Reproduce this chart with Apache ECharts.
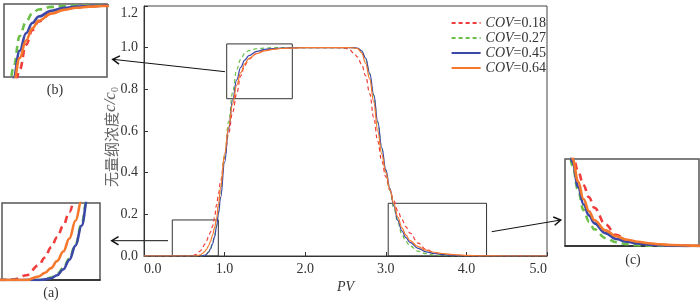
<!DOCTYPE html>
<html><head><meta charset="utf-8">
<script src="https://cdn.jsdelivr.net/npm/echarts@6/dist/echarts.min.js"></script>
<style>html,body{margin:0;padding:0;background:#fff}#c{width:700px;height:301px}</style>
</head><body><div id="c"></div>
<script>
// ---- data ----
const pv = [0,0.5,0.55,0.6,0.65,0.7,0.725,0.75,0.775,0.8,0.825,0.85,0.875,0.9,0.925,0.95,1.0,1.05,1.1,1.15,1.2,1.25,1.3,1.4,1.5,1.6,1.7,1.8,2.0,2.2,2.4,2.5,2.55,2.6,2.65,2.7,2.75,2.8,2.85,2.9,2.95,3.0,3.05,3.1,3.15,3.2,3.25,3.3,3.4,3.5,3.6,3.7,3.8,3.9,4.0,4.2,4.5,5.0];
const cov018 = [0,0,0,0.001,0.008,0.025,0.038,0.055,0.072,0.092,0.115,0.142,0.185,0.245,0.3,0.36,0.47,0.59,0.69,0.78,0.865,0.915,0.945,0.973,0.987,0.994,0.997,0.999,1,1,1,0.997,0.99,0.975,0.955,0.92,0.865,0.78,0.665,0.55,0.455,0.38,0.315,0.265,0.215,0.175,0.14,0.11,0.062,0.032,0.016,0.008,0.004,0.002,0.001,0,0,0];
const cov027 = [0,0,0,0,0,0,0.001,0.004,0.01,0.02,0.036,0.06,0.095,0.145,0.215,0.3,0.48,0.645,0.785,0.895,0.945,0.973,0.986,0.995,0.998,1,1,1,1,1,1,1,1,1,0.997,0.982,0.945,0.872,0.77,0.64,0.515,0.405,0.315,0.23,0.16,0.103,0.07,0.048,0.023,0.011,0.005,0.002,0.001,0,0,0,0,0];
const cov045 = [0,0,0,0,0,0,0.001,0.003,0.008,0.018,0.034,0.058,0.092,0.14,0.205,0.28,0.45,0.61,0.75,0.845,0.905,0.94,0.962,0.982,0.992,0.996,0.998,0.999,1,1,1,1,1,1,0.998,0.985,0.95,0.878,0.775,0.645,0.52,0.415,0.325,0.24,0.17,0.12,0.088,0.065,0.037,0.02,0.012,0.007,0.004,0.002,0.001,0,0,0];
const cov064 = [0,0,0,0,0,0.006,0.012,0.02,0.032,0.048,0.07,0.1,0.135,0.18,0.25,0.33,0.49,0.62,0.73,0.82,0.88,0.922,0.948,0.972,0.985,0.992,0.996,0.998,1,1,1,1,1,0.999,0.995,0.975,0.925,0.85,0.74,0.6,0.49,0.4,0.32,0.25,0.185,0.135,0.1,0.074,0.045,0.028,0.018,0.012,0.008,0.005,0.003,0.001,0,0];
const seriesNames = ['COV=0.18','COV=0.27','COV=0.45','COV=0.64'];
const seriesValues = [cov018, cov027, cov045, cov064];
const xTickLabels = ['0.0','1.0','2.0','3.0','4.0','5.0'];
const yTickLabels = ['0.0','0.2','0.4','0.6','0.8','1.0','1.2'];
// zoom boxes drawn on the main plot, [[x0,y0],[x1,y1]]
const boxA = [[0.351,0],[0.922,0.173]];
const boxB = [[1.026,0.755],[1.84,1.018]];
const boxC = [[3.03,0],[4.25,0.253]];
// inset axis ranges
const insetBX = [1.026,1.84], insetBY = [0.755,1.005];
const insetAX = [0.55,0.95],  insetAY = [0,0.13];
const insetCX = [3.03,4.26], insetCY = [0,0.25];

// ---- styles ----
const colors = ['#f03c3c','#6cc04a','#3c48a8','#f5782d'];
const dashed = [true,true,false,false];
const serif = 'Liberation Serif';

const chart = echarts.init(document.getElementById('c'), null, {renderer:'canvas'});

function mkSeries(i, gi, w, dash){
  return {
    name: seriesNames[i], type:'line', xAxisIndex: gi, yAxisIndex: gi,
    data: pv.map((x,k)=>[x, seriesValues[i][k]]),
    showSymbol:false, symbol:'none', smooth:0.4, smoothMonotone:'x',
    lineStyle:{color:colors[i], width:w, type: dashed[i] ? dash : 'solid'},
    itemStyle:{color:colors[i]}, silent:true, animation:false, z: 2+i
  };
}
const series = [];
for (let i=0;i<4;i++) series.push(mkSeries(i,0,1.2,[4,3]));
series[0].markArea = {
  silent:true,
  itemStyle:{color:'rgba(0,0,0,0)', borderColor:'#333', borderWidth:1},
  data:[boxA,boxB,boxC].map(b=>[{coord:b[0]},{coord:b[1]}])
};
for (let g=1; g<=3; g++) for (let i=0;i<4;i++) series.push(mkSeries(i,g,2.6,[7,5]));

const insetAxisX = (gi, r, line) => ({gridIndex:gi, type:'value', min:r[0], max:r[1],
  axisLine:{show:line, onZero:false, lineStyle:{color:'#222', width:1.5}}, axisTick:{show:false}, axisLabel:{show:false}, splitLine:{show:false}});
const insetAxisY = (gi, r) => ({gridIndex:gi, type:'value', min:r[0], max:r[1], show:false, splitLine:{show:false}});

function arrow(x1,y1,x2,y2){
  const dx=x1-x2, dy=y1-y2, L=Math.hypot(dx,dy), ux=dx/L, uy=dy/L, a=0.55, h=8;
  const r=(c,s)=>[x2+h*(ux*c-uy*s), y2+h*(uy*c+ux*s)];
  const p1=r(Math.cos(a),Math.sin(a)), p2=r(Math.cos(a),-Math.sin(a));
  return [
    {type:'line', shape:{x1,y1,x2,y2}, style:{stroke:'#111', lineWidth:1}, silent:true},
    {type:'polyline', shape:{points:[p1,[x2,y2],p2]}, style:{stroke:'#111', lineWidth:1.5, fill:null}, silent:true}
  ];
}
const txt = (x,y,t)=>({type:'text', x, y, style:{text:t, font:'14px "Liberation Serif"', fill:'#333', align:'center', verticalAlign:'middle'}, silent:true});

chart.setOption({
  animation:false,
  grid:[
    {left:144, top:6, right:153, bottom:45, show:true, borderColor:'#444', borderWidth:1},
    {left:4, top:4, width:103, height:73, show:true, borderColor:'#555', borderWidth:1.5},
    {left:2, top:203, width:98, height:77, show:true, borderColor:'#555', borderWidth:1.5},
    {left:565, top:159, width:134, height:87, show:true, borderColor:'#555', borderWidth:1.5}
  ],
  legend:{
    data: seriesNames, orient:'vertical', right:149, top:11, itemWidth:29, itemHeight:10, itemGap:1,
    itemStyle:{opacity:0},
    formatter: n => '{i|COV}' + n.slice(3),
    textStyle:{fontFamily:serif, fontSize:14, color:'#333', lineHeight:14,
      rich:{i:{fontFamily:serif, fontStyle:'italic', fontSize:14, color:'#333', lineHeight:14}}},
    selectedMode:false
  },
  xAxis:[
    {gridIndex:0, type:'value', min:0, max:5, interval:1,
     name:'PV', nameLocation:'middle', nameGap:24, nameMoveOverlap:false,
     nameTextStyle:{fontFamily:serif, fontStyle:'italic', fontSize:14, color:'#333'},
     axisLine:{lineStyle:{color:'#333', width:1}},
     axisTick:{inside:true, length:4, lineStyle:{color:'#333'}},
     axisLabel:{fontFamily:serif, fontSize:14, color:'#333', margin:6,
       formatter:(v)=>xTickLabels[Math.round(v)], alignMinLabel:'left', alignMaxLabel:'right'},
     splitLine:{show:false}},
    insetAxisX(1, insetBX, false), insetAxisX(2, insetAX, true), insetAxisX(3, insetCX, true)
  ],
  yAxis:[
    {gridIndex:0, type:'value', min:0, max:1.2, interval:0.2,
     name:'{cn|无量纲浓度}{it|c/c}{sub|0}', nameLocation:'middle', nameGap:24, nameRotate:90, nameMoveOverlap:false,
     nameTextStyle:{color:'#666', padding:[0,12,0,0], rich:{
       cn:{fontFamily:'Noto Sans CJK SC', fontSize:15, color:'#666', lineHeight:18},
       it:{fontFamily:serif, fontStyle:'italic', fontSize:17, color:'#666', lineHeight:18},
       sub:{fontFamily:serif, fontSize:10, color:'#666', lineHeight:18, verticalAlign:'bottom'}}},
     axisLine:{show:true, lineStyle:{color:'#333', width:1}},
     axisTick:{show:true, inside:true, length:4, lineStyle:{color:'#333'}},
     axisLabel:{fontFamily:serif, fontSize:14, color:'#333', margin:6,
       formatter:(v)=>yTickLabels[Math.round(v*5)], verticalAlignMaxLabel:'top'},
     splitLine:{show:false}},
    insetAxisY(1, insetBY), insetAxisY(2, insetAY), insetAxisY(3, insetCY)
  ],
  series: series,
  graphic: [
    ...arrow(225,71.7,112.7,59.3),
    ...arrow(168,240.7,111.7,240.7),
    ...arrow(491.7,231.7,560.7,220),
    txt(55,90,'(b)'), txt(51,293,'(a)'), txt(633,260,'(c)')
  ]
});
</script></body></html>
